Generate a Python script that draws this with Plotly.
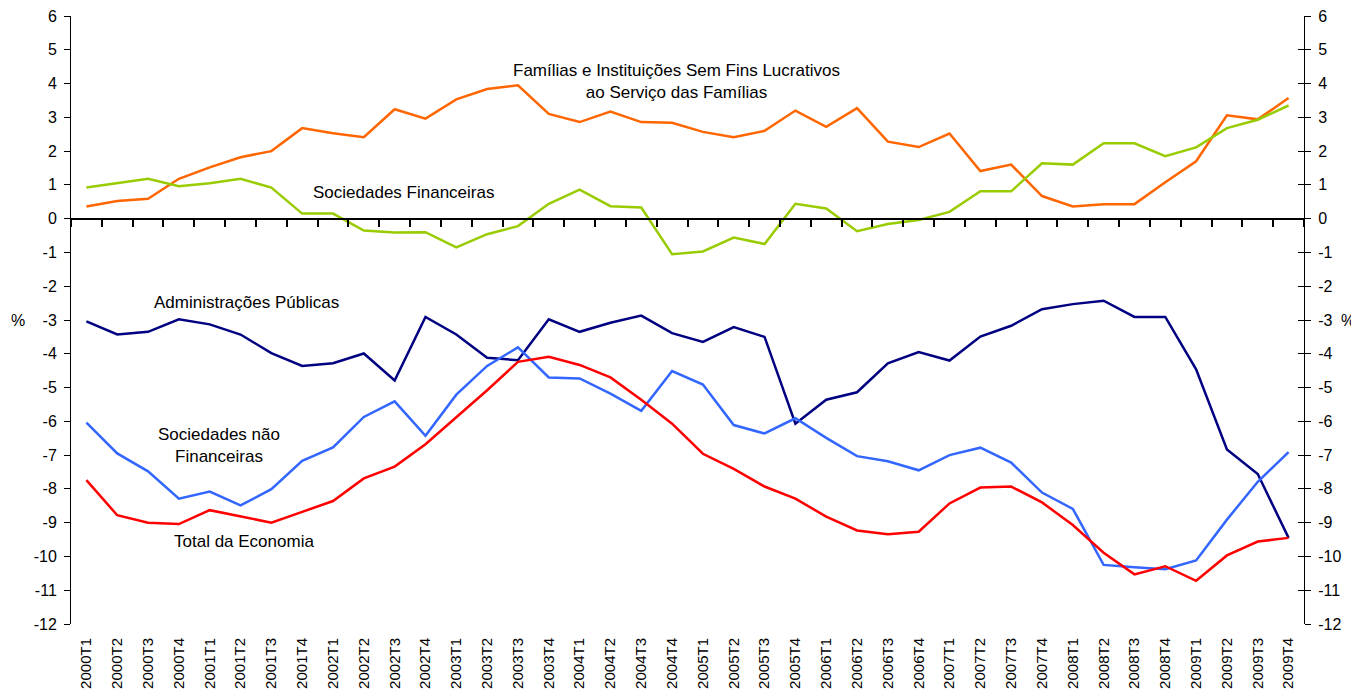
import plotly.graph_objects as go

years = list(range(2000, 2010))
quarters = [f"{y}T{q}" for y in years for q in range(1, 5)]

familias = [0.36, 0.52, 0.59, 1.18, 1.52, 1.82, 2.0, 2.68, 2.53, 2.41,
            3.24, 2.96, 3.53, 3.84, 3.95, 3.10, 2.86, 3.17, 2.86, 2.84,
            2.57, 2.41, 2.60, 3.20, 2.72, 3.27, 2.28, 2.12, 2.52, 1.41,
            1.60, 0.67, 0.36, 0.43, 0.43, 1.08, 1.70, 3.06, 2.94, 3.57]

soc_financeiras = [0.92, 1.05, 1.18, 0.96, 1.05, 1.18, 0.92, 0.15, 0.15, -0.35,
                   -0.41, -0.40, -0.85, -0.46, -0.22, 0.44, 0.86, 0.37, 0.33, -1.05,
                   -0.97, -0.56, -0.75, 0.44, 0.30, -0.37, -0.16, -0.04, 0.20, 0.81,
                   0.81, 1.64, 1.60, 2.23, 2.23, 1.85, 2.11, 2.68, 2.93, 3.35]

adm_publicas = [-3.04, -3.43, -3.35, -2.98, -3.13, -3.43, -3.98, -4.36, -4.28, -3.99,
                -4.79, -2.91, -3.43, -4.12, -4.19, -2.98, -3.35, -3.08, -2.87, -3.39,
                -3.65, -3.21, -3.50, -6.07, -5.36, -5.14, -4.28, -3.95, -4.20, -3.49,
                -3.17, -2.68, -2.53, -2.43, -2.91, -2.91, -4.46, -6.83, -7.56, -9.45]

soc_nao_financeiras = [-6.04, -6.95, -7.48, -8.29, -8.08, -8.49, -8.01, -7.17, -6.77, -5.87,
                       -5.41, -6.43, -5.21, -4.36, -3.81, -4.70, -4.73, -5.18, -5.69, -4.51,
                       -4.91, -6.11, -6.36, -5.91, -6.49, -7.03, -7.18, -7.45, -7.00, -6.78,
                       -7.22, -8.11, -8.59, -10.25, -10.32, -10.38, -10.12, -8.91, -7.79, -6.91]

total_economia = [-7.74, -8.78, -9.00, -9.04, -8.63, -8.81, -9.00, -8.68, -8.36, -7.69,
                  -7.34, -6.68, -5.87, -5.08, -4.24, -4.09, -4.33, -4.70, -5.36, -6.07,
                  -6.96, -7.41, -7.93, -8.29, -8.82, -9.23, -9.34, -9.27, -8.43, -7.96,
                  -7.93, -8.40, -9.07, -9.89, -10.53, -10.29, -10.72, -9.97, -9.56, -9.45]

y_ticks = list(range(-12, 7))
y_ticktext = [str(v) for v in y_ticks]

font = "Liberation Sans, Arial, sans-serif"

series = [
    ("Famílias", familias, "#FF6600"),
    ("Sociedades Financeiras", soc_financeiras, "#99CC00"),
    ("Administrações Públicas", adm_publicas, "#000080"),
    ("Sociedades não Financeiras", soc_nao_financeiras, "#3366FF"),
    ("Total da Economia", total_economia, "#FF0000"),
]

fig = go.Figure()
for name, vals, col in series:
    fig.add_trace(go.Scatter(x=quarters, y=vals, name=name, mode="lines",
                             line=dict(color=col, width=2.5)))

# eixo auxiliar: linha do zero com marcas entre trimestres
fig.add_trace(go.Scatter(x=[0, len(quarters)], y=[0, 0], xaxis="x2", yaxis="y",
                         mode="lines", line=dict(width=0), hoverinfo="skip", showlegend=False))
# eixos direitos (marcas cruzadas)
fig.add_trace(go.Scatter(x=quarters[:1], y=[0], yaxis="y2", mode="markers",
                         marker=dict(opacity=0), hoverinfo="skip", showlegend=False))
fig.add_trace(go.Scatter(x=quarters[:1], y=[0], yaxis="y3", mode="markers",
                         marker=dict(opacity=0), hoverinfo="skip", showlegend=False))

yax = dict(range=[-12, 6], tickvals=y_ticks, ticktext=y_ticktext, showgrid=False,
           zeroline=False, automargin=False, ticklabeloverflow="allow",
           showline=True, linecolor="black", linewidth=1, tickcolor="black",
           ticklen=6, ticklabelstandoff=4, tickfont=dict(size=16, color="black", family=font))

# a página tem 8px de margem no body
fig.update_layout(
    width=1351, height=682,
    margin=dict(l=63, r=55, t=8, b=66),
    paper_bgcolor="white", plot_bgcolor="white",
    showlegend=False,
    font=dict(family=font, color="black"),
    xaxis=dict(type="category", range=[-0.5, len(quarters) - 0.5], showgrid=False,
               showline=False, ticks="", tickangle=-90, automargin=False,
               ticklabelstandoff=10, ticklabeloverflow="allow",
               tickfont=dict(size=15, color="black", family=font)),
    xaxis2=dict(overlaying="x", anchor="free", position=12 / 18, range=[0, len(quarters)],
                tick0=0, dtick=1, ticks="outside", ticklen=7, tickwidth=2, tickcolor="black",
                showline=True, linecolor="black", linewidth=2, showticklabels=False,
                showgrid=False, zeroline=False, automargin=False),
    yaxis=dict(yax, ticks="outside"),
    yaxis2=dict(yax, overlaying="y", side="right", ticks="outside"),
    yaxis3=dict(yax, overlaying="y", side="right", ticks="inside", showticklabels=False),
)

lab = dict(size=17, color="black", family=font)
fig.add_annotation(x=19.15, y=4.05, text="Famílias e Instituições Sem Fins Lucrativos<br>ao Serviço das Famílias",
                   showarrow=False, font=lab)
fig.add_annotation(x=10.3, y=0.78, text="Sociedades Financeiras", showarrow=False, font=lab)
fig.add_annotation(x=5.18, y=-2.49, text="Administrações Públicas", showarrow=False, font=lab)
fig.add_annotation(x=4.3, y=-6.71, text="Sociedades não<br>Financeiras", showarrow=False, font=lab)
fig.add_annotation(x=5.1, y=-9.57, text="Total da Economia", showarrow=False, font=lab)

pct = dict(size=16, color="black", family=font)
fig.add_annotation(xref="paper", x=0, xanchor="center", xshift=-53, y=-3, text="%",
                   showarrow=False, font=pct)
fig.add_annotation(xref="paper", x=1, xanchor="center", xshift=44, y=-3, text="%",
                   showarrow=False, font=pct)

fig.write_html("out.html")
